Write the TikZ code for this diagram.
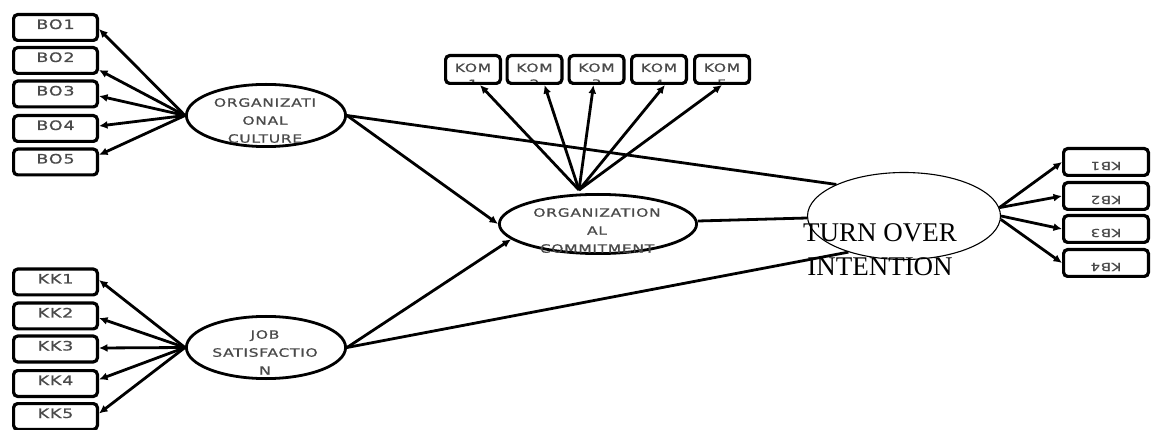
\documentclass[tikz,border=0pt]{standalone}
\usepackage{fontspec}
\setmainfont{Liberation Serif}
\newfontfamily\lblfont[FakeStretch=1.35,LetterSpace=6,FakeBold=0.8]{DejaVu Sans}
\usetikzlibrary{arrows.meta,shapes.geometric}
\definecolor{txtgray}{HTML}{4A4A4A}
\tikzset{
  ind/.style={draw, line width=3.2pt, rounded corners=4pt, minimum width=83.8pt,
    minimum height=25.8pt, inner sep=0pt, text height=7.5pt, text depth=4.5pt,
    font=\lblfont\fontsize{13}{14}\selectfont, text=txtgray},
  kbbox/.style={draw, line width=3.2pt, rounded corners=4pt, minimum width=84.8pt,
    minimum height=26.8pt, inner sep=0pt, text height=6pt, text depth=6pt, rotate=180,
    font=\lblfont\fontsize{11}{13}\selectfont, text=txtgray},
  kombox/.style={draw, line width=3.2pt, rounded corners=4pt, minimum width=54.8pt,
    minimum height=27.8pt, inner sep=0pt,
    path picture={\node[komtxt, anchor=north] at ([yshift=-4.6pt]path picture bounding box.north) {KOM\\#1};}},
  komtxt/.style={inner sep=0pt, align=center, font=\lblfont\fontsize{11.5}{16}\selectfont, text=txtgray},
  lat/.style={draw, ellipse, line width=2.8pt, fill=white, inner sep=0pt},
  lattxt/.style={inner sep=0pt, align=center, anchor=north,
    font=\lblfont\fontsize{11.5}{18}\selectfont, text=txtgray},
  arr/.style={line width=2.8pt, -{Latex[length=8.5pt,width=8pt]}},
  ln/.style={line width=2.8pt},
}
\begin{document}
\begin{tikzpicture}[x=1pt,y=-1pt]
\useasboundingbox (0,0) rectangle (1154,430);

% indicator boxes, left
\node[ind] (bo1) at (55.5,27.5) {BO1};
\node[ind] (bo2) at (55.5,60.5) {BO2};
\node[ind] (bo3) at (55.5,94) {BO3};
\node[ind] (bo4) at (55.5,128.5) {BO4};
\node[ind] (bo5) at (55.5,162) {BO5};
\node[ind] (kk1) at (55.5,282) {KK1};
\node[ind] (kk2) at (55.5,316) {KK2};
\node[ind] (kk3) at (55.5,349) {KK3};
\node[ind] (kk4) at (55.5,383.5) {KK4};
\node[ind] (kk5) at (55.5,416.5) {KK5};

% KOM boxes
\node[kombox=1] (kom1) at (473,69.5) {};
\node[kombox=2] (kom2) at (534.5,69.5) {};
\node[kombox=3] (kom3) at (596.5,69.5) {};
\node[kombox=4] (kom4) at (659,69.5) {};
\node[kombox=5] (kom5) at (722,69.5) {};

% KB boxes (upside down)
\node[kbbox] (kb1) at (1106,162) {KB1};
\node[kbbox] (kb2) at (1106,196) {KB2};
\node[kbbox] (kb3) at (1106,229) {KB3};
\node[kbbox] (kb4) at (1106,263) {KB4};

% latent variables
\node[lat, minimum width=159.2pt, minimum height=62.2pt] (culture) at (266,115.5) {};
\node[lat, minimum width=159.2pt, minimum height=62.2pt] (js) at (266,347.5) {};
\node[lat, minimum width=197.2pt, minimum height=59.2pt] (oc) at (598,224) {};
\node[draw, ellipse, line width=1.1pt, fill=white, inner sep=0pt,
      minimum width=193pt, minimum height=87pt] (toi) at (904,216) {};

\coordinate (ocTop) at (579,190);

% arrows to indicators
\draw[arr] (culture.west) -- ([yshift=-1.5pt]bo1.east);
\draw[arr] (culture.west) -- ([yshift=-9.5pt]bo2.east);
\draw[arr] (culture.west) -- ([yshift=-2pt]bo3.east);
\draw[arr] (culture.west) -- ([yshift=2.5pt]bo4.east);
\draw[arr] (culture.west) -- ([yshift=7pt]bo5.east);

\draw[arr] (js.west) -- ([yshift=2pt]kk1.east);
\draw[arr] (js.west) -- ([yshift=-2pt]kk2.east);
\draw[arr] (js.west) -- ([yshift=1pt]kk3.east);
\draw[arr] (js.west) -- ([yshift=4pt]kk4.east);
\draw[arr] (js.west) -- ([yshift=3pt]kk5.east);

\draw[arr] (ocTop) -- ([xshift=7pt]kom1.south);
\draw[arr] (ocTop) -- ([xshift=10pt]kom2.south);
\draw[arr] (ocTop) -- ([xshift=-3pt]kom3.south);
\draw[arr] (ocTop) -- ([xshift=6pt]kom4.south);
\draw[arr] (ocTop) -- (kom5.south);

\draw[arr] (toi.5) -- (kb1.east);
\draw[arr] (toi.5) -- (kb2.east);
\draw[arr] (toi.east) -- (kb3.east);
\draw[arr] (toi.-2) -- (kb4.east);

% structural paths
\draw[arr] (culture.east) -- (oc.west);
\draw[arr] (js.east) -- (oc.190);
\draw[ln] (culture.east) -- (toi.155);
\draw[ln] ([yshift=3pt]oc.east) -- ([yshift=-2pt]toi.west);
\draw[ln] (js.east) -- (toi.213);

% texts
\node[lattxt] (cultureTxt) at (265,98) {ORGANIZATI\\ONAL\\CULTURE};
\node[lattxt] (jsTxt) at (265,330) {JOB\\SATISFACTIO\\N};
\node[lattxt] (ocTxt) at (597,208) {ORGANIZATION\\AL\\COMMITMENT};
\node[inner sep=0pt, align=center, anchor=north, font=\fontsize{27}{34}\selectfont]
  (toiTxt) at (880,223) {TURN OVER\\INTENTION};
\end{tikzpicture}
\end{document}
